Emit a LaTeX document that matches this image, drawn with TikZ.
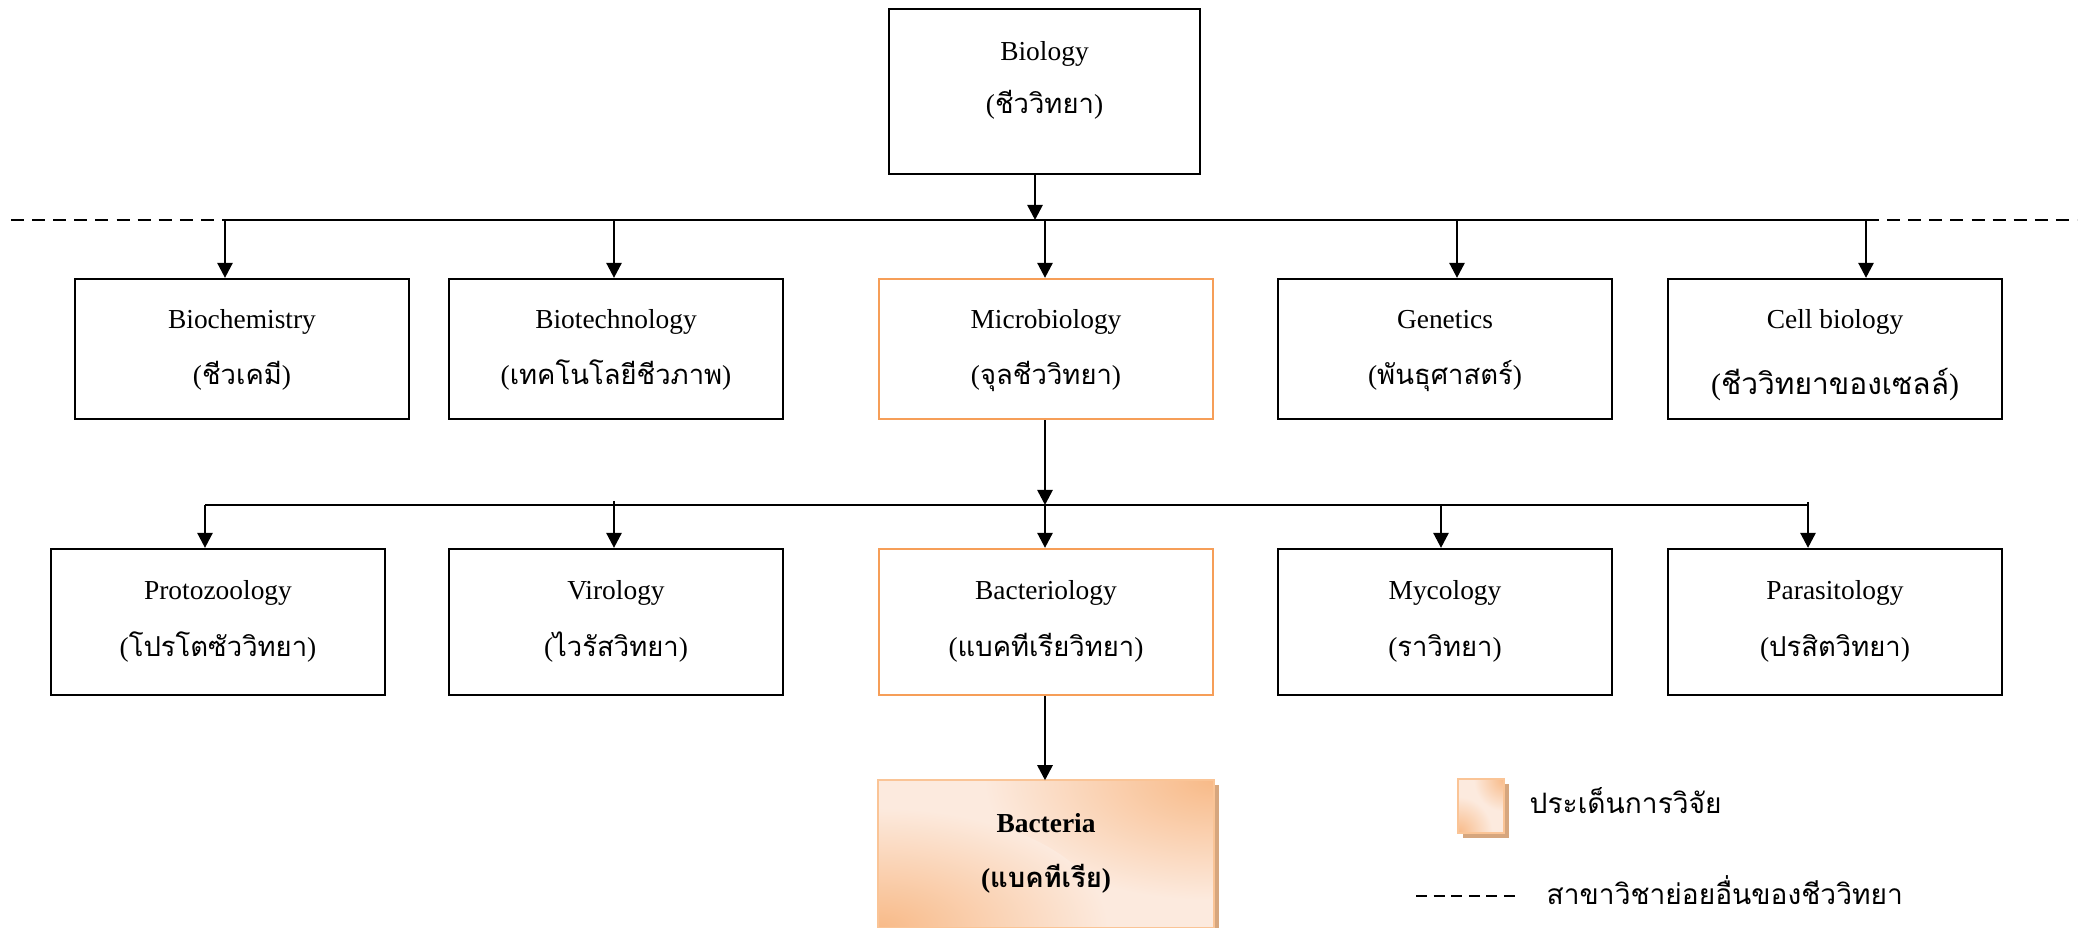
\documentclass[tikz,border=0pt]{standalone}
\usepackage{fontspec}
\setmainfont{Liberation Serif}
\newfontfamily\thaifont[Script=Thai]{Loma}
\usetikzlibrary{arrows.meta,calc,backgrounds}
\newcommand\thai[1]{{\thaifont #1}}
\definecolor{accent}{RGB}{246,158,88}
\definecolor{peachlight}{RGB}{252,234,222}
\definecolor{peachdark}{RGB}{248,186,136}
\definecolor{peachborder}{RGB}{250,196,150}
\definecolor{shadowtan}{RGB}{214,166,126}
\begin{document}
\begin{tikzpicture}[x=0.01cm,y=-0.01cm,
  box/.style={draw=black, line width=0.6pt, minimum width=3.34cm, inner sep=0pt},
  rowone/.style={box, minimum height=1.40cm},
  rowtwo/.style={box, minimum height=1.46cm},
  focus/.style={draw=accent},
  topic/.style={fill=peachlight, inner sep=0pt},
  glow/.style={inner color=peachdark, outer color=peachlight},
  topicrim/.style={draw=peachborder, line width=0.6pt},
  shadowbox/.style={fill=shadowtan},
  en/.style={anchor=base, inner sep=0pt, font=\fontsize{7.8}{9}\selectfont},
  th/.style={anchor=base, inner sep=0pt, font=\fontsize{7.8}{9}\selectfont},
  thbig/.style={anchor=base, inner sep=0pt, font=\fontsize{8.5}{10}\selectfont},
  legtext/.style={anchor=base west, inner sep=0pt, font=\fontsize{8}{9}\selectfont},
  link/.style={line width=0.6pt},
  dashlink/.style={line width=0.6pt, dash pattern=on 3.7pt off 2.3pt},
  arrow/.style={line width=0.75pt, -{Triangle[width=4.3pt,length=4.3pt]}}
]
\useasboundingbox (0,0) rectangle (2085,928);

% top level
\node[box, minimum width=3.10cm, minimum height=1.65cm] (bio) at (1044.5,91.5) {};
\node[en] (bio-en) at ($(bio.north)+(0,53)$) {Biology};
\node[th] (bio-th) at ($(bio.north)+(0,106)$) {(\thai{ชีววิทยา})};

% branches of biology
\node[rowone] (biochem) at (242,349) {};
\node[rowone] (biotech) at (616,349) {};
\node[rowone, focus] (micro) at (1046,349) {};
\node[rowone] (genetics) at (1445,349) {};
\node[rowone] (cell) at (1835,349) {};

\node[en] (biochem-en) at ($(biochem.north)+(0,51)$) {Biochemistry};
\node[th] (biochem-th) at ($(biochem.north)+(0,107)$) {(\thai{ชีวเคมี})};
\node[en] (biotech-en) at ($(biotech.north)+(0,51)$) {Biotechnology};
\node[th] (biotech-th) at ($(biotech.north)+(0,107)$) {(\thai{เทคโนโลยีชีวภาพ})};
\node[en] (micro-en) at ($(micro.north)+(0,51)$) {Microbiology};
\node[th] (micro-th) at ($(micro.north)+(0,107)$) {(\thai{จุลชีววิทยา})};
\node[en] (genetics-en) at ($(genetics.north)+(0,51)$) {Genetics};
\node[th] (genetics-th) at ($(genetics.north)+(0,107)$) {(\thai{พันธุศาสตร์})};
\node[en] (cell-en) at ($(cell.north)+(0,51)$) {Cell biology};
\node[thbig] (cell-th) at ($(cell.north)+(0,117)$) {(\thai{ชีววิทยาของเซลล์})};

% branches of microbiology
\node[rowtwo] (proto) at (218,622) {};
\node[rowtwo] (viro) at (616,622) {};
\node[rowtwo, focus] (bacterio) at (1046,622) {};
\node[rowtwo] (myco) at (1445,622) {};
\node[rowtwo] (para) at (1835,622) {};

\node[en] (proto-en) at ($(proto.north)+(0,52)$) {Protozoology};
\node[th] (proto-th) at ($(proto.north)+(0,109)$) {(\thai{โปรโตซัววิทยา})};
\node[en] (viro-en) at ($(viro.north)+(0,52)$) {Virology};
\node[th] (viro-th) at ($(viro.north)+(0,109)$) {(\thai{ไวรัสวิทยา})};
\node[en] (bacterio-en) at ($(bacterio.north)+(0,52)$) {Bacteriology};
\node[th] (bacterio-th) at ($(bacterio.north)+(0,109)$) {(\thai{แบคทีเรียวิทยา})};
\node[en] (myco-en) at ($(myco.north)+(0,52)$) {Mycology};
\node[th] (myco-th) at ($(myco.north)+(0,109)$) {(\thai{ราวิทยา})};
\node[en] (para-en) at ($(para.north)+(0,52)$) {Parasitology};
\node[th] (para-th) at ($(para.north)+(0,109)$) {(\thai{ปรสิตวิทยา})};

% research topic: pale fill, warmer towards the top-right and bottom-left corners
\node[topic, minimum width=3.34cm, minimum height=1.46cm] (bacteria) at (1046,854) {};
\begin{scope}
  \clip (bacteria.south west) rectangle (bacteria.north east);
  \shade[glow] (bacteria.north east) ellipse [x radius=230, y radius=120];
  \shade[glow] (bacteria.south west) ellipse [x radius=230, y radius=120];
\end{scope}
\draw[topicrim] (bacteria.south west) rectangle (bacteria.north east);
\node[en, font=\fontsize{7.8}{9}\selectfont\bfseries] (bacteria-en) at ($(bacteria.north)+(0,52)$) {Bacteria};
\node[th, font=\fontsize{7.8}{9}\selectfont\bfseries] (bacteria-th) at ($(bacteria.north)+(0,107)$) {(\thai{แบคทีเรีย})};

% upper bus
\coordinate (busL) at (11,220);
\coordinate (jb) at (1035,220);
\coordinate (j1) at (225,220);
\coordinate (j2) at (614,220);
\coordinate (j3) at (1045,220);
\coordinate (j4) at (1457,220);
\coordinate (j5) at (1866,220);
\coordinate (busR) at (2077,220);
\draw[dashlink] (busL) -- (j1);
\draw[link] (j1) -- (j5);
\draw[dashlink] (j5) -- (busR);
\draw[arrow] (bio.south -| jb) -- (jb);
\draw[arrow] (j1) -- (j1 |- biochem.north);
\draw[arrow] (j2) -- (j2 |- biotech.north);
\draw[arrow] (j3) -- (j3 |- micro.north);
\draw[arrow] (j4) -- (j4 |- genetics.north);
\draw[arrow] (j5) -- (j5 |- cell.north);

% lower bus
\coordinate (k1) at (205,505);
\coordinate (k2) at (614,501);
\coordinate (k3) at (1045,505);
\coordinate (k4) at (1441,505);
\coordinate (k5) at (1808,502);
\draw[link] (k1) -- (k5 |- k1);
\draw[arrow] (micro.south -| k3) -- (k3);
\draw[arrow] (k1) -- (k1 |- proto.north);
\draw[arrow] (k2) -- (k2 |- viro.north);
\draw[arrow] (k3) -- (k3 |- bacterio.north);
\draw[arrow] (k4) -- (k4 |- myco.north);
\draw[arrow] (k5) -- (k5 |- para.north);
\draw[arrow] (bacterio.south -| k3) -- (k3 |- bacteria.north);

% legend
\node[topic, minimum width=0.44cm, minimum height=0.52cm] (key) at (1481,806) {};
\begin{scope}
  \clip (key.south west) rectangle (key.north east);
  \shade[glow] (key.north east) ellipse [x radius=30, y radius=32];
  \shade[glow] (key.south west) ellipse [x radius=34, y radius=36];
\end{scope}
\draw[topicrim] (key.south west) rectangle (key.north east);
\node[legtext] (key-text) at (1529,813) {\thai{ประเด็นการวิจัย}};
\coordinate (dashA) at (1416,896);
\coordinate (dashB) at (1516,896);
\draw[line width=0.75pt, dash pattern=on 3.1pt off 1.9pt] (dashA) -- (dashB);
\node[legtext] (dash-text) at (1546,904) {\thai{สาขาวิชาย่อยอื่นของชีววิทยา}};

% offset shadows behind the research-topic boxes
\begin{pgfonlayer}{background}
  \fill[shadowbox] ($(bacteria.south west)+(5,5)$) rectangle ($(bacteria.north east)+(5,5)$);
  \fill[shadowbox] ($(key.south west)+(5,5)$) rectangle ($(key.north east)+(5,5)$);
\end{pgfonlayer}
\end{tikzpicture}
\end{document}
